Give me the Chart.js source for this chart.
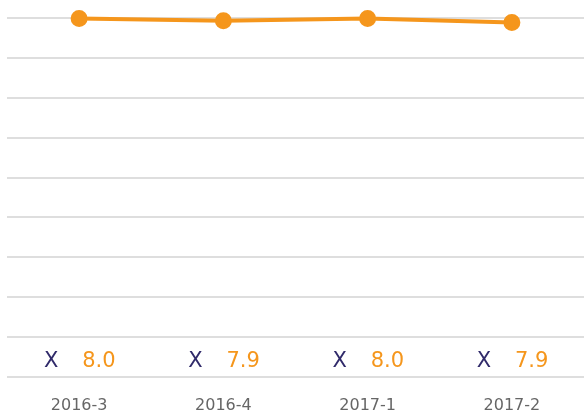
<!DOCTYPE html>
<html>
<head>
<meta charset="utf-8">
<script src="https://cdn.jsdelivr.net/npm/chart.js@4"></script>
<style>
  html, body { margin: 0; padding: 0; background: #fff; overflow: hidden; }
  canvas { display: block; }
</style>
</head>
<body>
<canvas id="chart" width="584" height="415"></canvas>
<script>
const categories = ["2016-3", "2016-4", "2017-1", "2017-2"];
const scores = [7.99, 7.93, 7.99, 7.89];
const markers = ["X", "X", "X", "X"];

const orange = "#f5961c";
const navy = "#302a6a";

// the "X  8.0" row drawn inside the lowest grid band
const tableRow = {
  id: "tableRow",
  afterDatasetsDraw(chart) {
    const { ctx, scales } = chart;
    const y = (scales.y.getPixelForValue(0) + scales.y.getPixelForValue(-1)) / 2 + 4;
    ctx.save();
    ctx.font = "21px 'DejaVu Sans'";
    ctx.textBaseline = "middle";
    categories.forEach((c, i) => {
      const x = scales.x.getPixelForValue(i);
      ctx.fillStyle = navy;
      ctx.textAlign = "center";
      ctx.fillText(markers[i], x - 28, y);
      ctx.fillStyle = orange;
      ctx.textAlign = "left";
      ctx.fillText(scores[i].toFixed(1), x + 3, y);
    });
    ctx.restore();
  },
};

new Chart(document.getElementById("chart"), {
  type: "line",
  data: {
    labels: categories,
    datasets: [
      {
        data: scores,
        borderColor: orange,
        backgroundColor: orange,
        borderWidth: 4,
        pointRadius: 6.5,
        pointHoverRadius: 6.5,
        pointBackgroundColor: orange,
        pointBorderColor: orange,
        tension: 0,
        clip: false,
      },
    ],
  },
  options: {
    responsive: false,
    animation: false,
    devicePixelRatio: 1,
    layout: { autoPadding: false, padding: { top: 18, left: 7, right: 0, bottom: 0 } },
    plugins: {
      legend: { display: false },
      tooltip: { enabled: false },
    },
    scales: {
      x: {
        offset: true,
        grid: { display: false, drawTicks: false },
        border: { display: false },
        ticks: {
          color: "#666666",
          font: { family: "DejaVu Sans", size: 16 },
          padding: 19,
        },
        afterFit(scale) {
          scale.height = 38;
        },
      },
      y: {
        min: -1,
        max: 8,
        ticks: { display: false, stepSize: 1 },
        grid: { color: "#dedede", lineWidth: 2, drawTicks: false },
        border: { display: false },
      },
    },
  },
  plugins: [tableRow],
});
</script>
</body>
</html>
